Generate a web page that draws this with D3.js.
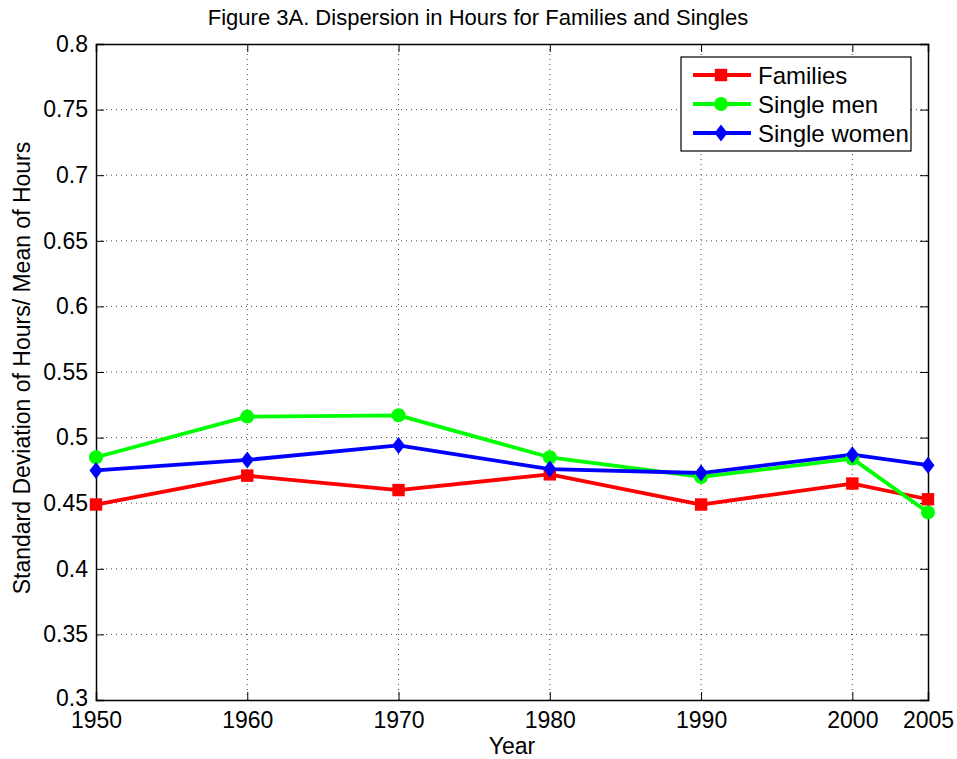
<!DOCTYPE html>
<html><head><meta charset="utf-8">
<script src="https://cdn.jsdelivr.net/npm/d3@7"></script>
<style>body{margin:0;background:#fff;} svg{display:block;font-family:"Liberation Sans",Arial,sans-serif;}</style>
</head><body><svg id="c" width="957" height="759"></svg>
<script>
const years = [1950, 1960, 1970, 1980, 1990, 2000, 2005];
const families = [0.449, 0.471, 0.460, 0.472, 0.449, 0.465, 0.453];
const singleMen = [0.485, 0.516, 0.517, 0.485, 0.470, 0.484, 0.443];
const singleWomen = [0.475, 0.483, 0.494, 0.476, 0.473, 0.487, 0.479];
const xTicks = [1950, 1960, 1970, 1980, 1990, 2000, 2005];
const yTicks = [0.3, 0.35, 0.4, 0.45, 0.5, 0.55, 0.6, 0.65, 0.7, 0.75, 0.8];
const seriesNames = ["Families", "Single men", "Single women"];
const seriesColors = ["#ff0000", "#00ff00", "#0000ff"];
const seriesMarkers = ["square", "circle", "diamond"];

const svg = d3.select("#c");
const L = 96, R = 928, T = 44, B = 700;
const FS = 23;
const x = d3.scaleLinear().domain([1950, 2005]).range([L, R]);
const y = d3.scaleLinear().domain([0.3, 0.8]).range([B, T]);

// grid
const g = svg.append("g");
g.selectAll(".gx").data(xTicks.filter(d => d > 1950 && d < 2005)).enter().append("line")
  .attr("x1", d => x(d)).attr("x2", d => x(d)).attr("y1", T).attr("y2", B)
  .attr("stroke", "#000").attr("stroke-width", 1).attr("stroke-dasharray", "1,4").attr("opacity", 0.7);
g.selectAll(".gy").data(yTicks.filter(d => d > 0.3 && d < 0.8)).enter().append("line")
  .attr("x1", L).attr("x2", R).attr("y1", d => y(d)).attr("y2", d => y(d))
  .attr("stroke", "#000").attr("stroke-width", 1).attr("stroke-dasharray", "1,4").attr("opacity", 0.7);

// axes
const ax = svg.append("g").attr("transform", `translate(0,${B})`)
  .call(d3.axisBottom(x).tickValues(xTicks).tickFormat(d3.format("d")).tickSize(-8).tickPadding(12));
const ay = svg.append("g").attr("transform", `translate(${L},0)`)
  .call(d3.axisLeft(y).tickValues(yTicks).tickFormat(d => String(+d.toFixed(2))).tickSize(-8).tickPadding(8));
const axT = svg.append("g").attr("transform", `translate(0,${T})`)
  .call(d3.axisTop(x).tickValues(xTicks).tickFormat("").tickSize(-8));
const ayR = svg.append("g").attr("transform", `translate(${R},0)`)
  .call(d3.axisRight(y).tickValues(yTicks).tickFormat("").tickSize(-8));
[ax, ay, axT, ayR].forEach(a => {
  a.selectAll("path").attr("stroke", "#000").attr("stroke-width", 1.5);
  a.selectAll("line").attr("stroke", "#000").attr("stroke-width", 1);
  a.selectAll("text").attr("font-size", FS).attr("fill", "#000").attr("font-family", "Liberation Sans, Arial, sans-serif");
});
ay.selectAll("text").filter(d => d === 0.3).attr("dy", "0.22em");

// series
const data = [families, singleMen, singleWomen];
const line = d3.line().x((d, i) => x(years[i])).y(d => y(d));
function marker(sel, type, color) {
  if (type === "square") sel.append("rect").attr("x", -6.2).attr("y", -6.2).attr("width", 12.4).attr("height", 12.4).attr("fill", color);
  else if (type === "circle") sel.append("circle").attr("r", 7).attr("fill", color);
  else sel.append("path").attr("d", "M0,-8.5L6.5,0L0,8.5L-6.5,0Z").attr("fill", color);
}
data.forEach((vals, k) => {
  svg.append("path").datum(vals).attr("d", line).attr("fill", "none")
    .attr("stroke", seriesColors[k]).attr("stroke-width", 3.8).attr("stroke-linejoin", "round");
});
data.forEach((vals, k) => {
  vals.forEach((v, i) => {
    const m = svg.append("g").attr("transform", `translate(${x(years[i])},${y(v)})`);
    marker(m, seriesMarkers[k], seriesColors[k]);
  });
});

// legend
const lg = svg.append("g");
lg.append("rect").attr("x", 681).attr("y", 57).attr("width", 230).attr("height", 94)
  .attr("fill", "#fff").attr("stroke", "#000").attr("stroke-width", 1.2);
seriesNames.forEach((n, k) => {
  const yy = 75 + k * 29;
  lg.append("line").attr("x1", 693).attr("x2", 751).attr("y1", yy).attr("y2", yy)
    .attr("stroke", seriesColors[k]).attr("stroke-width", 3.8);
  const m = lg.append("g").attr("transform", `translate(721,${yy})`);
  marker(m, seriesMarkers[k], seriesColors[k]);
  lg.append("text").attr("x", 758).attr("y", yy).attr("dy", "0.36em").attr("font-size", 24).text(n);
});

// titles
svg.append("text").attr("x", 478).attr("y", 25).attr("text-anchor", "middle").attr("font-size", 22).text("Figure 3A. Dispersion in Hours for Families and Singles");
svg.append("text").attr("x", 512).attr("y", 754).attr("text-anchor", "middle").attr("font-size", FS).text("Year");
svg.append("text").attr("transform", "translate(30,368) rotate(-90)").attr("text-anchor", "middle").attr("font-size", FS).text("Standard Deviation of Hours/ Mean of Hours");
</script></body></html>
